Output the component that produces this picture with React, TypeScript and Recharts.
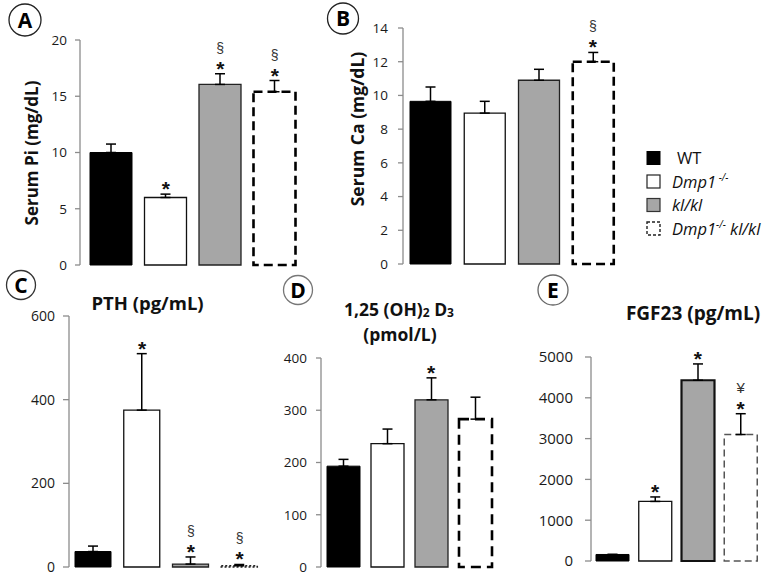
import { BarChart, Bar, Cell, XAxis, YAxis, ErrorBar, ReferenceDot } from "recharts";

const groups = ["WT", "Dmp1-/-", "kl/kl", "Dmp1-/- kl/kl"];

// A: serum phosphate
const piMean = [10.0, 6.0, 16.05, 15.4];
const piErr = [0.75, 0.3, 0.95, 1.0];
const piNotes = ["", "*", "§*", "§*"];
const piTicks = [0, 5, 10, 15, 20];

// B: serum calcium
const caMean = [9.65, 8.95, 10.9, 12.0];
const caErr = [0.85, 0.7, 0.65, 0.55];
const caNotes = ["", "", "", "§*"];
const caTicks = [0, 2, 4, 6, 8, 10, 12, 14];

// C: PTH
const pthMean = [37, 375, 7, 3];
const pthErr = [13, 135, 17, 3];
const pthNotes = ["", "*", "§*", "§*"];
const pthTicks = [0, 200, 400, 600];

// D: 1,25(OH)2D3
const vitMean = [193, 236, 320, 283];
const vitErr = [13, 28, 42, 42];
const vitNotes = ["", "", "*", ""];
const vitTicks = [0, 100, 200, 300, 400];

// E: FGF23
const fgfMean = [160, 1460, 4430, 3100];
const fgfErr = [0, 110, 400, 510];
const fgfNotes = ["", "*", "*", "¥*"];
const fgfTicks = [0, 1000, 2000, 3000, 4000, 5000];

type Look = { fill: string; stroke: string; w: number; dash?: string };

const base: Look[] = [
  { fill: "#000", stroke: "#000", w: 1 },
  { fill: "#fff", stroke: "#111", w: 1.3 },
  { fill: "#a6a6a6", stroke: "#222", w: 1.3 },
];
const looksA: Look[] = [...base, { fill: "#fff", stroke: "#000", w: 2.6, dash: "9 5" }];
const looksC: Look[] = [...base, { fill: "#fff", stroke: "#222", w: 1.6, dash: "2 2" }];
const looksD: Look[] = [...base, { fill: "#fff", stroke: "#000", w: 2.6, dash: "10 6" }];
const looksE: Look[] = [
  base[0],
  base[1],
  { fill: "#a6a6a6", stroke: "#111", w: 2.2 },
  { fill: "#fff", stroke: "#555", w: 1.5, dash: "7 4" },
];

const axisColor = "#8c8c8c";
const font = "'Open Sans', sans-serif";
const markFont = "'Liberation Sans', sans-serif";

// star just above the error bar, §/¥ stacked above it
const marker = (note: string) => (p: any) => {
  const { cx, cy } = p;
  const chars = Array.from(note);
  const top = chars.length > 1 ? chars[0] : "";
  return (
    <g>
      <text x={cx} y={cy + 2} textAnchor="middle" fontSize={21} fontWeight={700} fill="#111" fontFamily={markFont}>
        *
      </text>
      {top && (
        <text
          x={cx}
          y={cy - 21}
          textAnchor="middle"
          fontSize={top === "§" ? 14 : 15}
          fill="#333"
          fontFamily={markFont}
        >
          {top}
        </text>
      )}
    </g>
  );
};

type PanelProps = {
  mean: number[];
  err: number[];
  notes: string[];
  ticks: number[];
  looks: Look[];
  left: number;
  top: number;
  width: number;
  height: number;
  margin: { top: number; right: number; bottom: number; left: number };
  axisWidth: number;
  barSize: number;
  fontSize: number;
  tickSize: number;
  tickMargin: number;
  padLeft?: number;
};

function Panel(props: PanelProps) {
  const { mean, err, notes, ticks, looks } = props;
  const data = groups.map((g, i) => ({ g, v: mean[i], e: [0, err[i]] }));
  return (
    <div style={{ position: "absolute", left: props.left, top: props.top }}>
      <BarChart width={props.width} height={props.height} data={data} margin={props.margin}>
        <XAxis
          dataKey="g"
          tick={false}
          tickLine={false}
          height={0}
          axisLine={{ stroke: axisColor, strokeWidth: 1.3 }}
          padding={{ left: props.padLeft ?? 0, right: 0 }}
        />
        <YAxis
          domain={[ticks[0], ticks[ticks.length - 1]]}
          ticks={ticks}
          interval={0}
          width={props.axisWidth}
          tickSize={props.tickSize}
          tickMargin={props.tickMargin}
          axisLine={{ stroke: axisColor, strokeWidth: 1.3 }}
          tickLine={{ stroke: axisColor, strokeWidth: 1.3 }}
          tick={{ fill: "#1a1a1a", fontSize: props.fontSize, fontFamily: font }}
        />
        <Bar dataKey="v" barSize={props.barSize} isAnimationActive={false}>
          {data.map((d, i) => (
            <Cell
              key={d.g}
              fill={looks[i].fill}
              stroke={looks[i].stroke}
              strokeWidth={looks[i].w}
              strokeDasharray={looks[i].dash}
            />
          ))}
          <ErrorBar dataKey="e" direction="y" width={5} stroke="#000" strokeWidth={1.5} />
        </Bar>
        {groups.map((g, i) =>
          notes[i] ? (
            <ReferenceDot
              key={g}
              x={g}
              y={mean[i] + err[i]}
              r={0}
              ifOverflow="visible"
              shape={marker(notes[i])}
            />
          ) : null
        )}
      </BarChart>
    </div>
  );
}

const legendLooks: Look[] = [
  { fill: "#000", stroke: "#000", w: 1 },
  { fill: "#fff", stroke: "#222", w: 1.2 },
  { fill: "#a6a6a6", stroke: "#333", w: 1.2 },
  { fill: "#fff", stroke: "#222", w: 1.4, dash: "3 2" },
];

function Circle({ x, y, r, letter, color }: { x: number; y: number; r: number; letter: string; color: string }) {
  return (
    <g>
      <circle cx={x} cy={y} r={r} fill="none" stroke={color} strokeWidth={1.3} />
      <text x={x} y={y + 7.5} textAnchor="middle" fontSize={21} fontWeight={700} fill="#000" fontFamily={font}>
        {letter}
      </text>
    </g>
  );
}

function Overlay() {
  const rows = [158, 181.5, 205, 228.5];
  return (
    <svg
      width={778}
      height={577}
      style={{ position: "absolute", left: 0, top: 0, pointerEvents: "none" }}
      fontFamily={font}
    >
      <Circle x={25} y={20} r={16} letter="A" color="#222" />
      <Circle x={343} y={18.5} r={15.5} letter="B" color="#222" />
      <Circle x={21} y={285} r={14.5} letter="C" color="#333" />
      <Circle x={298} y={290} r={14.5} letter="D" color="#777" />
      <Circle x={553} y={290} r={15} letter="E" color="#666" />

      <text x={38} y={153} transform="rotate(-90 38 153)" textAnchor="middle" fontSize={17} fontWeight={700} fill="#111">
        Serum Pi (mg/dL)
      </text>
      <text x={364} y={129} transform="rotate(-90 364 129)" textAnchor="middle" fontSize={17.5} fontWeight={700} fill="#111">
        Serum Ca (mg/dL)
      </text>

      <text x={147.5} y={310} textAnchor="middle" fontSize={18.5} fontWeight={700} fill="#111">
        PTH (pg/mL)
      </text>
      <text x={399} y={316} textAnchor="middle" fontSize={17.5} fontWeight={700} fill="#111">
        1,25 (OH)<tspan fontSize={12} dy={1}>2</tspan>
        <tspan dy={-1}> D</tspan>
        <tspan fontSize={12} dy={1}>3</tspan>
      </text>
      <text x={400} y={341} textAnchor="middle" fontSize={17.5} fontWeight={700} fill="#111">
        (pmol/L)
      </text>
      <text x={693} y={320} textAnchor="middle" fontSize={19} fontWeight={700} fill="#111">
        FGF23 (pg/mL)
      </text>

      {rows.map((cy, i) => (
        <rect
          key={i}
          x={647}
          y={cy - 6.5}
          width={13}
          height={13}
          fill={legendLooks[i].fill}
          stroke={legendLooks[i].stroke}
          strokeWidth={legendLooks[i].w}
          strokeDasharray={legendLooks[i].dash}
        />
      ))}
      <text x={677} y={rows[0] + 6} fontSize={16.5} fill="#111">
        {groups[0]}
      </text>
      <text x={672} y={rows[1] + 6} fontSize={16.5} fontStyle="italic" fill="#111">
        Dmp1<tspan fontSize={10} dy={-7}> -/-</tspan>
      </text>
      <text x={672} y={rows[2] + 6} fontSize={16.5} fontStyle="italic" fill="#111">
        {groups[2]}
      </text>
      <text x={672} y={rows[3] + 6} fontSize={16.5} fontStyle="italic" fill="#111">
        Dmp1<tspan fontSize={10} dy={-7}>-/-</tspan>
        <tspan dy={7}> kl/kl</tspan>
      </text>
    </svg>
  );
}

export default function App() {
  return (
    <div
      style={{
        position: "absolute",
        left: 0,
        top: 0,
        width: 778,
        height: 577,
        background: "#fff",
        fontFamily: font,
        overflow: "hidden",
      }}
    >
      <Panel
        mean={piMean}
        err={piErr}
        notes={piNotes}
        ticks={piTicks}
        looks={looksA}
        left={0}
        top={0}
        width={310}
        height={280}
        margin={{ top: 40, right: 8, bottom: 15, left: 0 }}
        axisWidth={80}
        barSize={42}
        fontSize={13.5}
        tickSize={5}
        tickMargin={8}
        padLeft={4}
      />
      <Panel
        mean={caMean}
        err={caErr}
        notes={caNotes}
        ticks={caTicks}
        looks={looksA}
        left={330}
        top={0}
        width={300}
        height={280}
        margin={{ top: 28, right: 10, bottom: 16, left: 0 }}
        axisWidth={73}
        barSize={41}
        fontSize={13.5}
        tickSize={5}
        tickMargin={10}
      />
      <Panel
        mean={pthMean}
        err={pthErr}
        notes={pthNotes}
        ticks={pthTicks}
        looks={looksC}
        left={0}
        top={290}
        width={270}
        height={287}
        margin={{ top: 26, right: 6, bottom: 10, left: 0 }}
        axisWidth={69}
        barSize={36}
        fontSize={14}
        tickSize={6}
        tickMargin={8}
      />
      <Panel
        mean={vitMean}
        err={vitErr}
        notes={vitNotes}
        ticks={vitTicks}
        looks={looksD}
        left={260}
        top={290}
        width={250}
        height={287}
        margin={{ top: 68, right: 13, bottom: 10, left: 0 }}
        axisWidth={61}
        barSize={33}
        fontSize={13.5}
        tickSize={5}
        tickMargin={9}
      />
      <Panel
        mean={fgfMean}
        err={fgfErr}
        notes={fgfNotes}
        ticks={fgfTicks}
        looks={looksE}
        left={510}
        top={290}
        width={268}
        height={287}
        margin={{ top: 67, right: 16, bottom: 16, left: 0 }}
        axisWidth={81}
        barSize={33}
        fontSize={15}
        tickSize={6}
        tickMargin={12}
      />
      <Overlay />
    </div>
  );
}
